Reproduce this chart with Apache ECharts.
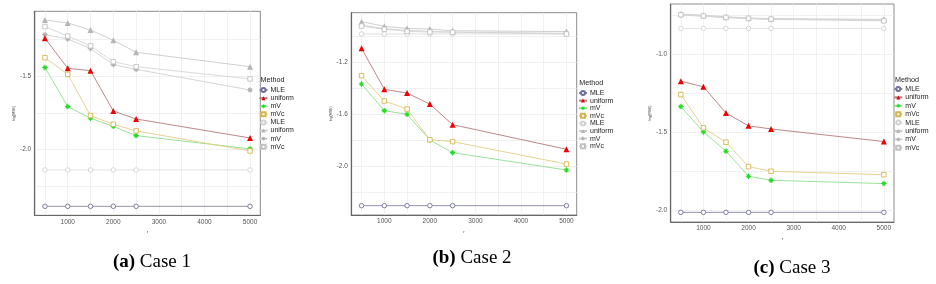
<!DOCTYPE html>
<html>
<head>
<meta charset="utf-8">
<script src="https://cdn.jsdelivr.net/npm/echarts@6/dist/echarts.min.js"></script>
<style>html,body{margin:0;padding:0;background:#fff;}#c{width:936px;height:284px;}</style>
</head>
<body>
<div id="c"></div>
<script>
// ---- data ----
const rValues = [500, 1000, 1500, 2000, 2500, 5000];
const methodNames = ['MLE', 'uniform', 'mV', 'mVc'];

const case1_MLE     = [-2.385, -2.385, -2.385, -2.385, -2.385, -2.385];
const case1_uniform = [-1.244, -1.448, -1.464, -1.738, -1.792, -1.921];
const case1_mV      = [-1.443, -1.708, -1.787, -1.842, -1.905, -1.995];
const case1_mVc     = [-1.376, -1.489, -1.769, -1.828, -1.873, -2.009];
const case1_gMLE     = [-2.138, -2.138, -2.138, -2.138, -2.138, -2.138];
const case1_guniform = [-1.120, -1.140, -1.188, -1.258, -1.339, -1.437];
const case1_gmV      = [-1.219, -1.249, -1.314, -1.423, -1.455, -1.595];
const case1_gmVc     = [-1.165, -1.229, -1.296, -1.403, -1.437, -1.520];

const case2_MLE     = [-2.306, -2.306, -2.306, -2.306, -2.306, -2.306];
const case2_uniform = [-1.092, -1.408, -1.437, -1.522, -1.681, -1.871];
const case2_mV      = [-1.367, -1.573, -1.601, -1.799, -1.897, -2.031];
const case2_mVc     = [-1.303, -1.498, -1.560, -1.797, -1.812, -1.985];
const case2_gMLE     = [-0.981, -0.981, -0.981, -0.981, -0.981, -0.981];
const case2_guniform = [-0.886, -0.922, -0.938, -0.943, -0.956, -0.963];
const case2_gmV      = [-0.912, -0.940, -0.953, -0.961, -0.966, -0.976];
const case2_gmVc     = [-0.920, -0.945, -0.961, -0.966, -0.968, -0.981];

const case3_MLE     = [-2.015, -2.015, -2.015, -2.015, -2.015, -2.015];
const case3_uniform = [-1.172, -1.208, -1.376, -1.459, -1.479, -1.560];
const case3_mV      = [-1.335, -1.498, -1.622, -1.783, -1.809, -1.830];
const case3_mVc     = [-1.258, -1.472, -1.564, -1.721, -1.751, -1.773];
const case3_gMLE     = [-0.833, -0.833, -0.833, -0.833, -0.833, -0.833];
const case3_guniform = [-0.740, -0.749, -0.758, -0.766, -0.770, -0.775];
const case3_gmV      = [-0.747, -0.755, -0.764, -0.770, -0.775, -0.781];
const case3_gmVc     = [-0.745, -0.753, -0.762, -0.768, -0.773, -0.785];

const xTickLabels = [1000, 2000, 3000, 4000, 5000];
const xGridValues = [500, 1000, 1500, 2000, 2500, 3000, 3500, 4000, 4500, 5000];
const case1_yTickLabels = [-1.5, -2.0];
const case1_yGridValues = [-1.25, -1.5, -1.75, -2.0, -2.25];
const case2_yTickLabels = [-1.2, -1.6, -2.0];
const case2_yGridValues = [-1.0, -1.2, -1.4, -1.6, -1.8, -2.0, -2.2];
const case3_yTickLabels = [-1.0, -1.5, -2.0];
const case3_yGridValues = [-0.75, -1.0, -1.25, -1.5, -1.75, -2.0];
const captions = ['(a)|Case 1', '(b)|Case 2', '(c)|Case 3'];

// ---- styles ----
const asterisk = 'path://M-1,-5 L1,-5 L1,5 L-1,5 Z M-5,-1 L5,-1 L5,1 L-5,1 Z M-3.82,-2.54 L-2.54,-3.82 L3.82,2.54 L2.54,3.82 Z M-2.54,3.82 L-3.82,2.54 L2.54,-3.82 L3.82,-2.54 Z';
const styles = [
  {name: 'MLE',      line: '#8585aa', symbol: 'circle',   size: 4.5, fill: '#fff', border: '#70709a', hollow: true},
  {name: 'uniform',  line: '#b47c7c', symbol: 'triangle', size: 6,   fill: '#ee0000', border: '#ee0000'},
  {name: 'mV',       line: '#8fdf8f', symbol: asterisk,   size: 5.5, fill: '#22dd22', border: '#22dd22'},
  {name: 'mVc',      line: '#e3cd84', symbol: 'rect',     size: 4.5, fill: '#fff', border: '#d6b64e', hollow: true},
  {name: 'MLE ',     line: '#dedede', symbol: 'circle',   size: 4.5, fill: '#fff', border: '#d2d2d2', hollow: true},
  {name: 'uniform ', line: '#c9c9c9', symbol: 'triangle', size: 6,   fill: '#b5b5b5', border: '#b5b5b5'},
  {name: 'mV ',      line: '#d0d0d0', symbol: asterisk,   size: 5.5, fill: '#b0b0b0', border: '#b0b0b0'},
  {name: 'mVc ',     line: '#d6d6d6', symbol: 'rect',     size: 4.5, fill: '#fff', border: '#c2c2c2', hollow: true}
];

const panels = [
  {data: [case1_MLE, case1_uniform, case1_mV, case1_mVc, case1_gMLE, case1_guniform, case1_gmV, case1_gmVc],
   yMin: -2.446, yMax: -1.061, yLabels: case1_yTickLabels, yGrid: case1_yGridValues,
   grid: {left: 34.7, top: 11.3, width: 225.6, height: 204}, nameGapY: 18.5,
   legend: {left: 258.5, top: 86, lh: 8.1}, method: {x: 260.5, y: 76.5},
   cap: {x: 152, y: 253}},
  {data: [case2_MLE, case2_uniform, case2_mV, case2_mVc, case2_gMLE, case2_guniform, case2_gmV, case2_gmVc],
   yMin: -2.378, yMax: -0.817, yLabels: case2_yTickLabels, yGrid: case2_yGridValues,
   grid: {left: 351.3, top: 12.7, width: 225.4, height: 202.3}, nameGapY: 17.3,
   legend: {left: 578, top: 89.2, lh: 7.6}, method: {x: 579.3, y: 79.8},
   cap: {x: 472, y: 249}},
  {data: [case3_MLE, case3_uniform, case3_mV, case3_mVc, case3_gMLE, case3_guniform, case3_gmV, case3_gmVc],
   yMin: -2.077, yMax: -0.676, yLabels: case3_yTickLabels, yGrid: case3_yGridValues,
   grid: {left: 670.7, top: 4, width: 223.3, height: 218}, nameGapY: 18.7,
   legend: {left: 893.3, top: 84.8, lh: 8.4}, method: {x: 895, y: 76.2},
   cap: {x: 792, y: 259}}
];

const grids = [], xAxes = [], yAxes = [], series = [], legends = [], titles = [];
panels.forEach((p, i) => {
  grids.push(Object.assign({show: true, borderColor: '#8c8c8c', borderWidth: 1, backgroundColor: '#fff'}, p.grid));
  xAxes.push({
    type: 'value', gridIndex: i, min: 275, max: 5225,
    name: 'r', nameLocation: 'middle', nameGap: 12.5,
    nameTextStyle: {fontSize: 4, color: '#333', fontFamily: 'Liberation Sans'},
    axisLine: {show: true, lineStyle: {color: '#666', width: 1.2}},
    axisTick: {show: false, customValues: xGridValues},
    axisLabel: {customValues: xTickLabels, fontSize: 6.5, color: '#555', margin: 3, fontFamily: 'Liberation Sans',
                formatter: v => String(v)},
    splitLine: {show: true, lineStyle: {color: '#ededed', width: 0.8}}
  });
  yAxes.push({
    type: 'value', gridIndex: i, min: p.yMin, max: p.yMax,
    name: 'log(MSE)', nameLocation: 'middle', nameGap: p.nameGapY,
    nameTextStyle: {fontSize: 3.6, color: '#333', fontFamily: 'Liberation Sans'},
    axisLine: {show: true, lineStyle: {color: '#666', width: 1.2}},
    axisTick: {show: false, customValues: p.yGrid},
    axisLabel: {customValues: p.yLabels, fontSize: 6.5, color: '#555', margin: 3.5, fontFamily: 'Liberation Sans',
                formatter: v => v.toFixed(1)},
    splitLine: {show: true, lineStyle: {color: '#ededed', width: 0.8}}
  });
  styles.forEach((s, k) => {
    series.push({
      type: 'line', name: s.name, xAxisIndex: i, yAxisIndex: i,
      data: rValues.map((r, j) => [r, p.data[k][j]]),
      symbol: s.symbol, symbolSize: s.size, showAllSymbol: true,
      lineStyle: {color: s.line, width: 0.9},
      itemStyle: {color: s.fill, borderColor: s.border, borderWidth: s.hollow ? 0.9 : 0},
      z: k < 4 ? 3 : 2,
      animation: false, silent: true
    });
  });
  legends.push({
    orient: 'vertical', left: p.legend.left, top: p.legend.top, padding: 0,
    itemWidth: 8, itemHeight: 5, itemGap: 0, selectedMode: false,
    data: styles.map(s => s.name),
    textStyle: {fontSize: 7, color: '#222', lineHeight: p.legend.lh, fontFamily: 'Liberation Sans', padding: [0, 0, 0, -2]}
  });
  titles.push({
    text: 'Method', left: p.method.x, top: p.method.y, padding: 0,
    textStyle: {fontSize: 7.2, fontWeight: 'normal', color: '#222', fontFamily: 'Liberation Sans'}
  });
  const parts = captions[i].split('|');
  titles.push({
    text: '{b|' + parts[0] + '} ' + parts[1], left: p.cap.x, top: p.cap.y, textAlign: 'center', padding: 0,
    textStyle: {fontSize: 19, fontWeight: 'normal', color: '#000', fontFamily: 'Liberation Serif',
      rich: {b: {fontSize: 19, fontWeight: 'bold', color: '#000', fontFamily: 'Liberation Serif'}}}
  });
});

const chart = echarts.init(document.getElementById('c'), null, {renderer: 'canvas'});
chart.setOption({
  animation: false,
  backgroundColor: '#fff',
  title: titles,
  grid: grids,
  xAxis: xAxes,
  yAxis: yAxes,
  legend: legends,
  series: series
});
</script>
</body>
</html>
